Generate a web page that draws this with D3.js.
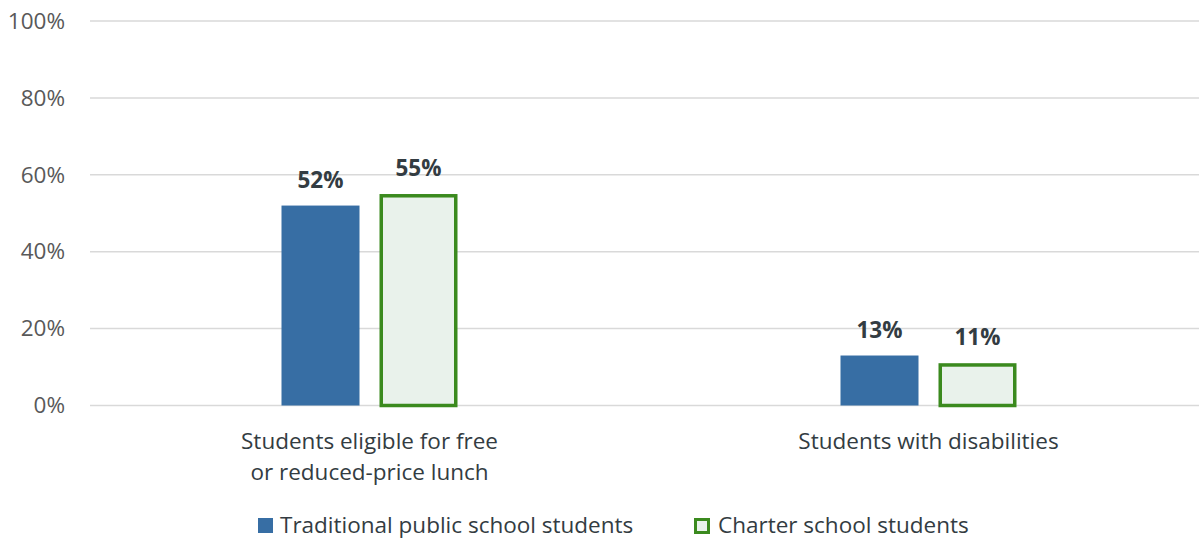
<!DOCTYPE html>
<html>
<head>
<meta charset="utf-8">
<script src="https://cdn.jsdelivr.net/npm/d3@7"></script>
<style>
  body { margin: 0; background: #fff; }
  text { font-family: "Open Sans", "Noto Sans", sans-serif; }
</style>
</head>
<body>
<svg width="1199" height="540"></svg>
<script>
// Data
var categories = [["Students eligible for free", "or reduced-price lunch"], ["Students with disabilities"]];
var seriesNames = ["Traditional public school students", "Charter school students"];
var traditional = [52, 13];
var charter = [55, 11];
var yTicks = [0, 20, 40, 60, 80, 100];

var svg = d3.select("svg"),
    margin = {top: 21, right: 0, bottom: 135, left: 90},
    width = +svg.attr("width") - margin.left - margin.right,
    height = +svg.attr("height") - margin.top - margin.bottom,
    g = svg.append("g").attr("transform", "translate(" + margin.left + "," + margin.top + ")");

var x = d3.scaleBand().domain(d3.range(categories.length)).range([0, 1118]);
var y = d3.scaleLinear().domain([0, 100]).range([height + 0.5, 0]);

var colors = ["#376ea4", "#3b8a1e"];
var fills = ["#376ea4", "#e9f2eb"];
var barW = 78, gap = 20;
var fs = 22.5;

// gridlines
g.selectAll(".grid").data(yTicks).enter().append("line")
    .attr("x1", 0).attr("x2", width)
    .attr("y1", d => y(d)).attr("y2", d => y(d))
    .attr("stroke", "#d9d9d9").attr("stroke-width", 1.5);

// y axis labels
var yAxis = g.append("g").call(d3.axisLeft(y).tickValues(yTicks).tickFormat(d => d + "%").tickSize(0).tickPadding(25));
yAxis.select(".domain").remove();
yAxis.selectAll("text").attr("font-size", fs).attr("fill", "#595959")
    .attr("font-family", "'Open Sans', sans-serif");

var data = [traditional, charter];
data.forEach(function(vals, s) {
  var off = s === 0 ? -(barW + gap / 2) : gap / 2;
  var sw = s === 0 ? 0 : 3.5;
  g.selectAll(".bar" + s).data(vals).enter().append("rect")
      .attr("x", (d, i) => x(i) + x.bandwidth() / 2 + off + sw / 2)
      .attr("y", d => y(d) + sw / 2)
      .attr("width", barW - sw)
      .attr("height", d => y(0) - y(d) - sw / 2)
      .attr("fill", fills[s])
      .attr("stroke", s === 0 ? "none" : colors[s])
      .attr("stroke-width", sw);
  g.selectAll(".lab" + s).data(vals).enter().append("text")
      .attr("x", (d, i) => x(i) + x.bandwidth() / 2 + off + barW / 2)
      .attr("y", d => y(d) - 18)
      .attr("text-anchor", "middle")
      .attr("font-size", fs).attr("font-weight", "bold").attr("fill", "#333c42")
      .text(d => d + "%");
});

// category labels
categories.forEach(function(lines, i) {
  var t = g.append("text")
      .attr("x", x(i) + x.bandwidth() / 2)
      .attr("y", height + 44)
      .attr("text-anchor", "middle")
      .attr("font-size", fs).attr("fill", "#333c42");
  lines.forEach(function(l, j) {
    t.append("tspan").attr("x", x(i) + x.bandwidth() / 2).attr("dy", j === 0 ? 0 : 31).text(l);
  });
});

// legend
var legend = svg.append("g");
var legX = [258, 694];
seriesNames.forEach(function(n, s) {
  var lg = legend.append("g").attr("transform", "translate(" + legX[s] + ",518)");
  lg.append("rect").attr("x", s === 0 ? 0 : 1.5).attr("y", s === 0 ? 0 : 1.5)
      .attr("width", s === 0 ? 15 : 13).attr("height", s === 0 ? 15 : 13)
      .attr("fill", fills[s]).attr("stroke", s === 0 ? "none" : colors[s]).attr("stroke-width", 3);
  lg.append("text").attr("x", s === 0 ? 22 : 24).attr("y", 15)
      .attr("font-size", fs).attr("fill", "#333c42").text(n);
});
</script>
</body>
</html>
